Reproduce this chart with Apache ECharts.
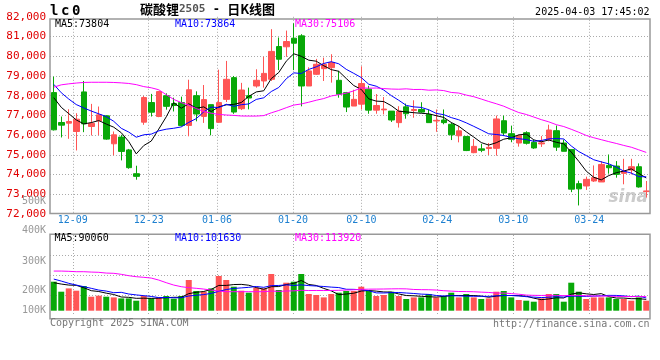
<!DOCTYPE html>
<html><head><meta charset="utf-8">
<script src="https://cdn.jsdelivr.net/npm/echarts@6/dist/echarts.min.js"></script>
<style>html,body{margin:0;padding:0;background:#fff}#c{width:660px;height:360px}</style>
</head><body><div id="c"></div>
<script>
const dates = ['12-04','12-05','12-06','12-09','12-10','12-11','12-12','12-13','12-16','12-17','12-18','12-19','12-20','12-23','12-24','12-25','12-26','12-27','12-30','12-31',
'01-02','01-03','01-06','01-07','01-08','01-09','01-10','01-13','01-14','01-15','01-16','01-17','01-20','01-21','01-22','01-23','01-24','01-27',
'02-05','02-06','02-07','02-10','02-11','02-12','02-13','02-14','02-17','02-18','02-19','02-20','02-21','02-24','02-25','02-26','02-27','02-28',
'03-03','03-04','03-05','03-06','03-07','03-10','03-11','03-12','03-13','03-14','03-17','03-18','03-19','03-20','03-21','03-24','03-25','03-26','03-27','03-28','03-31',
'04-01','04-02','04-03'];
const tickDates = ['12-09','12-23','01-06','01-20','02-10','02-24','03-10','03-24'];

const opens = [78157,76640,76606,76184,78191,76437,76724,76977,75560,75900,
75250,74043,76656,77651,76943,78000,77600,77650,76490,78000,
76950,77545,76650,77813,78915,77339,78000,78491,78746,78830,
80492,80480,80915,81034,78491,79085,79370,79424,78780,78152,
77475,77570,78330,77267,77280,77217,76633,77433,77250,77300,
77050,76717,76767,76550,75967,75933,75110,75304,75320,75330,
76730,76073,75600,76124,75635,75556,75770,76225,75600,75265,
73538,73422,73674,73624,74464,74430,74061,74229,74397,73137];
const closes = [76269,76505,76690,76808,76572,76600,77027,75797,76016,75173,
74350,73908,77904,77162,78208,77460,77500,76490,78300,77070,
77800,76330,77650,78830,77170,78288,77881,78780,79130,80245,
79848,80746,80661,78491,79254,79593,79593,79678,78068,77424,
77814,78615,77267,77500,77320,76767,77217,77083,77300,77167,
76633,76750,76633,76017,76217,75217,75430,75230,75380,76820,
76107,75787,75972,75585,75349,75606,76259,75391,75180,73260,
73276,73758,73842,74514,74346,74010,74178,74397,73372,73170];
const lows = [76235,75881,75813,75223,76150,75982,75999,75763,74975,74718,
74296,73740,76522,76943,76909,77290,77200,76437,75940,76700,
76620,75990,76620,77678,77080,77271,77305,78407,78407,78746,
79300,79970,79300,77460,78491,79050,78746,78661,77898,77169,
77475,77300,77083,77083,77050,76667,76383,76833,76883,77133,
76633,76167,76550,75750,75633,75190,75083,75136,74990,74960,
75950,75640,75415,75522,75304,75400,75686,75200,75180,73108,
72434,73221,73624,73624,74044,73842,73506,74010,73338,72834];
const highs = [78966,76943,77314,77112,78747,77584,77449,77010,76184,76016,
75300,74448,77988,78090,78241,78120,77900,77950,78810,78220,
78540,77545,79320,79763,79000,78650,78407,79339,79975,81373,
80950,81300,81670,81119,79440,79865,79932,80102,79254,78190,
78300,79490,78500,78083,77933,77217,77467,77600,77767,77667,
77300,77300,77300,76633,76467,75933,75800,75556,75600,76990,
76990,76480,76026,76194,75774,75950,76528,76486,75774,75265,
73688,73893,74464,74682,75018,74682,74800,74800,74565,73674];
const volumes = [232000,152000,178400,160000,197600,112000,120000,112000,106400,98400,
98400,80000,117600,98400,106400,117600,96000,117600,245600,157600,
152000,178400,277600,245600,192000,160000,144000,184000,178400,293600,
165600,224000,232000,293600,133600,125600,106400,133600,144000,157600,
157600,192000,157600,117600,125600,152000,117600,93600,106400,106400,
133600,106400,117600,144000,106400,133600,106400,93600,98400,152000,
157600,106400,85600,80000,72000,98400,133600,133600,72000,224000,
152000,93600,106400,106400,106400,93600,93600,80000,106400,80000];

// moving-average values read off the picture where earlier history is not shown
const ma5Head = [77900,77410,77090,76770];
const ma10Head = [78575,78150,77830,77550,77380,77220,77080,76940,76700];
const ma30Head = [78430,78550,78600,78640,78670,78680,78680,78680,78670,78650,78620,78560,78460,78400,78300,
78050,77810,77650,77520,77350,77200,77110,77050,77020,77000,76970,76966,76966,76990];
const vma5Head = [224000,213000,205000,203000];
const vma10Head = [253000,237000,219000,205000,192000,179000,165000,157000,144000];
const vma30Head = [317000,317000,315000,312000,312000,309000,307000,301000,299000,291000,280000,272000,267000,261000,245000,
224000,205000,192000,184000,179000,173000,165000,157000,152000,152000,152000,152000,152000,152000];

const priceMin = 72000, priceMax = 82000, priceStep = 1000;
const volTickLabels = ['500K','400K','300K','200K','100K'];
const priceMAText = ['MA5:73804','MA10:73864','MA30:75106'];
const volMAText = ['MA5:90060','MA10:101630','MA30:113920'];
const titleParts = ['碳酸锂','2505',' - ','日K线图'];
const codeText = 'lc0';
const timeText = '2025-04-03 17:45:02';
const copyText = 'Copyright 2025 SINA.COM';
const urlText = 'http://finance.sina.com.cn';

function movingAvg(vals, n, head) {
  return vals.map((v, i) => {
    if (i < n - 1) return head[i];
    let s = 0; for (let k = i - n + 1; k <= i; k++) s += vals[k];
    return Math.round(s / n);
  });
}
const FONT = '"DejaVu Sans Mono", monospace';
const UP = '#FF5555', DOWN = '#08A808';
const dotted = {color: '#aaaaaa', type: [1, 2], width: 1};
const isTick = (i, v) => tickDates.indexOf(dates[i]) >= 0;

const candleData = dates.map((d, i) => [opens[i], closes[i], lows[i], highs[i]]);
const volData = volumes.map((v, i) => ({value: v, itemStyle: {color: closes[i] >= opens[i] ? UP : DOWN}}));

const volLabelY = [201, 230.5, 261, 290.5, 310];

const graphics = [
  {type:'rect', z:100, silent:true, shape:{x:50, y:19, width:600, height:194.5}, style:{fill:'transparent', stroke:'#999', lineWidth:1.5}},
  {type:'rect', z:100, silent:true, shape:{x:50, y:234.3, width:600, height:84.4}, style:{fill:'transparent', stroke:'#999', lineWidth:1.5}},
  {type:'text', z:101, x:55, y:24.5, style:{text:priceMAText[0], font:'10px ' + FONT, fill:'#000', verticalAlign:'middle', textVerticalAlign:'middle'}},
  {type:'text', z:101, x:175, y:24.5, style:{text:priceMAText[1], font:'10px ' + FONT, fill:'#0000FF', verticalAlign:'middle', textVerticalAlign:'middle'}},
  {type:'text', z:101, x:295, y:24.5, style:{text:priceMAText[2], font:'10px ' + FONT, fill:'#FF00FF', verticalAlign:'middle', textVerticalAlign:'middle'}},
  {type:'text', z:101, x:54.5, y:238, style:{text:volMAText[0], font:'10px ' + FONT, fill:'#000', verticalAlign:'middle', textVerticalAlign:'middle'}},
  {type:'text', z:101, x:175, y:238, style:{text:volMAText[1], font:'10px ' + FONT, fill:'#0000FF', verticalAlign:'middle', textVerticalAlign:'middle'}},
  {type:'text', z:101, x:295, y:238, style:{text:volMAText[2], font:'10px ' + FONT, fill:'#FF00FF', verticalAlign:'middle', textVerticalAlign:'middle'}},
  {type:'text', z:101, x:50, y:323.5, style:{text:copyText, font:'10px ' + FONT, fill:'#777', verticalAlign:'middle', textVerticalAlign:'middle'}},
  {type:'text', z:101, x:649.5, y:324, style:{text:urlText, font:'10px ' + FONT, fill:'#777', align:'right', textAlign:'right', verticalAlign:'middle', textVerticalAlign:'middle'}},
  {type:'text', z:101, x:649.5, y:12, style:{text:timeText, font:'10px ' + FONT, fill:'#000', align:'right', textAlign:'right', verticalAlign:'middle', textVerticalAlign:'middle'}},
  {type:'text', z:1, x:648, y:198, style:{text:'sina', font:'italic bold 17px "DejaVu Sans", sans-serif', fill:'rgba(190,190,190,0.8)', align:'right', textAlign:'right', verticalAlign:'middle', textVerticalAlign:'middle'}}
];
volTickLabels.forEach((t, i) => {
  graphics.push({type:'text', z:101, x:46, y:volLabelY[i], style:{text:t, font:'10px ' + FONT, fill:'#999', align:'right', textAlign:'right', verticalAlign:'middle', textVerticalAlign:'middle'}});
});

const chart = echarts.init(document.getElementById('c'), null, {renderer:'canvas'});
chart.setOption({
  animation: false,
  backgroundColor: '#fff',
  title: [
    {text: '{a|' + titleParts[0] + '}{b|' + titleParts[1] + '}{c|' + titleParts[2] + '}{a|' + titleParts[3] + '}', left: 140, top: 2, padding: 0,
     textStyle: {rich: {a: {fontFamily: '"Noto Sans CJK SC"', fontSize: 13, color: '#000', lineHeight: 15},
                        b: {fontFamily: FONT, fontSize: 11, color: '#555', lineHeight: 15},
                        c: {fontFamily: FONT, fontSize: 12, color: '#000', lineHeight: 15}}}},
    {text: codeText.split('').map(c => '{l|' + c + '}').join(''), left: 50, top: 4, padding: 0,
     textStyle: {rich: {l: {fontFamily: FONT, fontWeight: 'bold', fontSize: 14, color: '#000', width: 11, lineHeight: 15}}}}
  ],
  grid: [
    {left: 50, top: 16.8, width: 600, height: 197.2},
    {left: 50, top: 235, width: 600, height: 80}
  ],
  xAxis: [
    {type: 'category', gridIndex: 0, data: dates, boundaryGap: true, show: false, position: 'bottom'},
    {type: 'category', gridIndex: 0, data: dates, boundaryGap: false, position: 'bottom',
     axisLine: {show: false}, axisTick: {show: false},
     axisLabel: {interval: isTick, color: '#1E80D0', fontFamily: FONT, fontSize: 10, margin: 1},
     splitLine: {show: true, interval: isTick, lineStyle: dotted}},
    {type: 'category', gridIndex: 1, data: dates, boundaryGap: true, show: false, position: 'bottom'},
    {type: 'category', gridIndex: 1, data: dates, boundaryGap: false, position: 'bottom',
     axisLine: {show: false}, axisTick: {show: false}, axisLabel: {show: false},
     splitLine: {show: true, interval: isTick, lineStyle: dotted}}
  ],
  yAxis: [
    {type: 'value', gridIndex: 0, min: priceMin, max: priceMax, interval: priceStep, scale: true,
     axisLine: {show: false}, axisTick: {show: false},
     axisLabel: {color: '#E00000', fontFamily: FONT, fontSize: 11, margin: 4, padding: [0, 0, 4, 0]},
     splitLine: {show: true, showMinLine: false, showMaxLine: false, lineStyle: dotted}},
    {type: 'value', gridIndex: 1, min: -34400, max: 605600, show: false, splitLine: {show: false}},
    {type: 'value', gridIndex: 1, min: 0, max: 4, interval: 1,
     axisLine: {show: false}, axisTick: {show: false}, axisLabel: {show: false},
     splitLine: {show: true, showMinLine: false, showMaxLine: false, lineStyle: dotted}}
  ],
  series: [
    {type: 'candlestick', xAxisIndex: 0, yAxisIndex: 0, data: candleData, barWidth: 6,
     itemStyle: {color: UP, color0: DOWN, borderColor: UP, borderColor0: DOWN, borderWidth: 1}},
    {type: 'line', xAxisIndex: 0, yAxisIndex: 0, data: movingAvg(closes, 5, ma5Head), symbol: 'none', lineStyle: {color: '#000', width: 1}},
    {type: 'line', xAxisIndex: 0, yAxisIndex: 0, data: movingAvg(closes, 10, ma10Head), symbol: 'none', lineStyle: {color: '#0000FF', width: 1}},
    {type: 'line', xAxisIndex: 0, yAxisIndex: 0, data: movingAvg(closes, 30, ma30Head), symbol: 'none', lineStyle: {color: '#FF00FF', width: 1}},
    {type: 'bar', xAxisIndex: 2, yAxisIndex: 1, data: volData, barWidth: 6},
    {type: 'line', xAxisIndex: 2, yAxisIndex: 1, data: movingAvg(volumes, 5, vma5Head), symbol: 'none', lineStyle: {color: '#000', width: 1}},
    {type: 'line', xAxisIndex: 2, yAxisIndex: 1, data: movingAvg(volumes, 10, vma10Head), symbol: 'none', lineStyle: {color: '#0000FF', width: 1}},
    {type: 'line', xAxisIndex: 2, yAxisIndex: 1, data: movingAvg(volumes, 30, vma30Head), symbol: 'none', lineStyle: {color: '#FF00FF', width: 1}}
  ],
  graphic: graphics
});
</script></body></html>
